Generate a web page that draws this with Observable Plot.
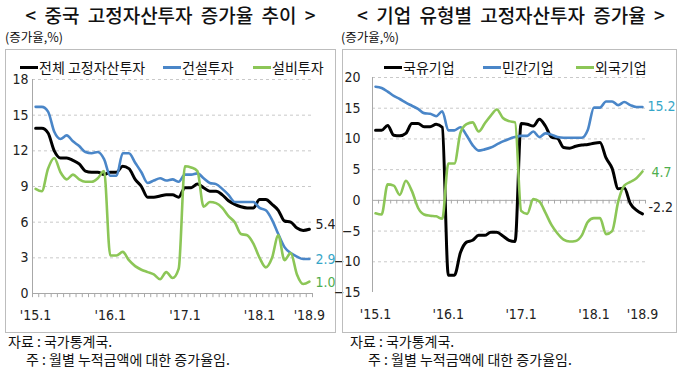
<!DOCTYPE html>
<html><head><meta charset="utf-8">
<script src="https://cdn.jsdelivr.net/npm/d3@7"></script>
<script src="https://cdn.jsdelivr.net/npm/@observablehq/plot@0.6"></script>
<style>
body{margin:0;background:#fff;}
#wrap{position:relative;width:680px;height:376px;overflow:hidden;font-family:"Noto Sans CJK KR","Noto Sans",sans-serif;color:#111;}
.title{position:absolute;top:1px;font-size:19px;font-weight:500;white-space:nowrap;text-align:center;word-spacing:4px;}
.unit{position:absolute;top:27px;font-size:12.5px;white-space:nowrap;}
.box{position:absolute;top:49px;height:284px;border:1px solid #bdbdbd;box-sizing:border-box;pointer-events:none;}
.chart{position:absolute;top:49px;}
.lg{position:absolute;top:57px;font-size:14px;white-space:nowrap;line-height:20px;}
.sw{position:absolute;top:66px;height:3px;}
.note{position:absolute;font-size:14px;white-space:nowrap;line-height:18px;}
</style></head>
<body><div id="wrap"></div>
<script>
// ---- data ----
const months = ["15.1","15.2","15.3","15.4","15.5","15.6","15.7","15.8","15.9","15.10","15.11","15.12",
  "16.1","16.2","16.3","16.4","16.5","16.6","16.7","16.8","16.9","16.10","16.11","16.12",
  "17.1","17.2","17.3","17.4","17.5","17.6","17.7","17.8","17.9","17.10","17.11","17.12",
  "18.1","18.2","18.3","18.4","18.5","18.6","18.7","18.8","18.9"];
const xTickIndex = [0, 12, 24, 36, 44];
const xTickLabels = ["'15.1", "'16.1", "'17.1", "'18.1", "'18.9"];

// left panel: 중국 고정자산투자 증가율
const leftSeriesNames = ["전체 고정자산투자", "건설투자", "설비투자"];
const total = [13.9,13.9,13.5,12.0,11.4,11.4,11.2,10.9,10.3,10.2,10.2,10.0,
  10.2,10.2,10.7,10.5,9.6,9.0,8.1,8.1,8.2,8.3,8.3,8.1,
  8.9,8.9,9.2,8.9,8.6,8.6,8.3,7.8,7.5,7.3,7.2,7.2,
  7.9,7.9,7.5,7.0,6.1,6.0,5.5,5.3,5.4];
const construction = [15.7,15.7,15.3,13.6,13.0,13.3,12.8,12.4,11.9,11.8,11.9,11.3,
  9.9,9.9,11.8,11.8,11.0,10.2,9.3,9.5,9.7,9.5,9.6,9.4,
  10.0,10.0,10.1,9.7,9.3,9.2,8.8,8.3,7.7,7.7,7.7,7.7,
  7.2,7.0,6.2,5.0,3.9,3.4,3.1,2.9,2.9];
const equipment = [8.8,8.6,10.5,11.4,10.2,9.6,10.0,9.6,9.4,9.4,9.7,10.3,
  3.2,3.2,3.5,2.8,2.3,2.0,1.8,1.6,1.2,1.8,1.3,2.1,
  10.7,10.6,10.3,7.3,7.7,7.6,7.2,6.5,6.0,5.0,4.9,4.2,
  3.0,2.2,3.0,4.9,2.8,3.4,1.6,0.8,1.0];
const leftYTicks = [0, 3, 6, 9, 12, 15, 18];

// right panel: 기업 유형별 고정자산투자 증가율
const rightSeriesNames = ["국유기업", "민간기업", "외국기업"];
const stateOwned = [11.4,11.4,12.2,10.6,10.5,10.9,12.5,12.5,12.0,12.0,12.4,11.9,
  -12.2,-12.2,-8.5,-6.8,-6.5,-5.7,-5.7,-5.2,-5.2,-5.8,-6.5,-6.7,
  12.5,12.4,12.1,13.2,12.1,10.3,10.1,8.6,8.5,8.8,9.0,9.1,
  9.3,9.4,6.9,5.2,1.9,2.0,-0.5,-1.6,-2.2];
const privateCo = [18.5,18.3,17.7,17.0,16.5,15.9,15.4,14.9,14.2,14.1,13.7,14.5,
  11.4,11.4,11.9,10.6,9.0,8.1,8.3,8.6,9.1,9.6,10.0,10.3,
  10.5,10.5,11.2,10.3,10.9,10.7,10.3,10.2,10.2,10.2,10.2,11.5,
  15.1,15.1,16.1,16.1,15.5,16.0,15.5,15.2,15.2];
const foreignCo = [-2.1,-2.3,2.6,2.4,0.9,3.2,1.5,-1.2,-2.3,-2.5,-2.6,-3.0,
  6.0,6.0,11.0,12.4,12.7,11.2,12.5,13.8,14.8,13.4,12.9,12.7,
  -1.7,-2.2,0.2,-0.2,-2.0,-4.0,-5.4,-6.4,-6.7,-6.6,-5.7,-3.5,
  -2.9,-2.9,-5.5,-5.0,-0.2,2.4,3.0,3.6,4.7];
const rightYTicks = [-15, -10, -5, 0, 5, 10, 15, 20];

const colors = {black: "#000000", blue: "#4a86c8", green: "#8cc657"};
const labelColors = {black: "#222222", blue: "#36a6c8", green: "#4fae4f"};

// ---- layout helpers ----
const wrap = document.getElementById("wrap");
function el(tag, cls, css, text) {
  const e = document.createElement(tag);
  if (cls) e.className = cls;
  Object.assign(e.style, css || {});
  if (text != null) e.textContent = text;
  wrap.appendChild(e);
  return e;
}
const numFont = '"Liberation Sans Narrow","DejaVu Sans Condensed","Liberation Sans",sans-serif';

function panel(cfg) {
  const series = cfg.series.map((s) => s.values.map((v, i) => ({i, v, name: s.name, key: s.key})));
  const bounds = d3.range(-0.5, months.length, 1);
  const chart = Plot.plot({
    width: cfg.width, height: cfg.height,
    marginLeft: cfg.ml, marginRight: cfg.mr, marginTop: cfg.mt, marginBottom: cfg.mb,
    style: {fontFamily: numFont, fontSize: "14px", color: "#222", background: "transparent", overflow: "visible"},
    x: {domain: [-0.5, months.length - 0.5], axis: null},
    y: {domain: cfg.yDomain, axis: null},
    marks: [
      Plot.ruleY(cfg.yTicks.filter(d => d !== 0 && d !== cfg.yDomain[0]), {stroke: "#c9c9c9", strokeDasharray: "3,3"}),
      Plot.ruleY([0], {stroke: "#a8a8a8"}),
      Plot.ruleX([-0.5], {stroke: "#a8a8a8"}),
      Plot.ruleX(bounds, {x: d => d, y1: 0, y2: cfg.tickLen, stroke: "#a8a8a8"}),
      Plot.axisY({ticks: cfg.yTicks, tickSize: 0, tickPadding: cfg.yPad, fontSize: 14, label: null}),
      Plot.axisX({ticks: xTickIndex, tickSize: 0, tickPadding: cfg.xPad, fontSize: 14, label: null,
        tickFormat: d => xTickLabels[xTickIndex.indexOf(d)]}),
      ...series.map((s, k) => Plot.line(s, {x: "i", y: "v", stroke: colors[cfg.series[k].key],
        strokeWidth: cfg.series[k].key === "black" ? 3 : 2.6, curve: "monotone-x"})),
      ...cfg.series.map((s) => Plot.text([s.values[s.values.length - 1]], {
        x: months.length - 1, y: d => d, text: d => d.toFixed(1), fill: labelColors[s.key],
        dx: s.dx, dy: s.dy, textAnchor: "start", fontSize: 14}))
    ]
  });
  chart.classList.add("chart");
  chart.style.left = cfg.left + "px";
  wrap.appendChild(chart);
  el("div", "box", {left: cfg.left + "px", width: cfg.width + "px"});
}

// titles
el("div", "title", {left: "5px", width: "331px"}, "< 중국 고정자산투자 증가율 추이 >");
el("div", "title", {left: "342px", width: "338px"}, "< 기업 유형별 고정자산투자 증가율 >");
el("div", "unit", {left: "5px"}, "(증가율,%)");
el("div", "unit", {left: "341px"}, "(증가율,%)");

panel({left: 5, width: 331, height: 284, ml: 27, mr: 24, mt: 30, mb: 40,
  yDomain: [0, 18], yTicks: leftYTicks, tickLen: -0.35, yPad: 4, xPad: 17,
  series: [
    {name: leftSeriesNames[0], key: "black", values: total, dx: 6, dy: -5},
    {name: leftSeriesNames[1], key: "blue", values: construction, dx: 6, dy: 0},
    {name: leftSeriesNames[2], key: "green", values: equipment, dx: 6, dy: 1}
  ]});
panel({left: 342, width: 335, height: 284, ml: 30, mr: 32, mt: 28, mb: 41,
  yDomain: [-15, 20], yTicks: rightYTicks, tickLen: -0.6, yPad: 12, xPad: 17,
  series: [
    {name: rightSeriesNames[0], key: "black", values: stateOwned, dx: 6, dy: -6},
    {name: rightSeriesNames[1], key: "blue", values: privateCo, dx: 5, dy: 0},
    {name: rightSeriesNames[2], key: "green", values: foreignCo, dx: 9, dy: 1}
  ]});

// legends
const legendPos = [
  [[20, leftSeriesNames[0], "black"], [163, leftSeriesNames[1], "blue"], [253, leftSeriesNames[2], "green"]],
  [[384, rightSeriesNames[0], "black"], [483, rightSeriesNames[1], "blue"], [576, rightSeriesNames[2], "green"]]
];
legendPos.flat().forEach(([x, name, key]) => {
  el("div", "sw", {left: x + "px", width: "18px", background: colors[key]});
  el("div", "lg", {left: (x + 19) + "px"}, name);
});

// notes
el("div", "note", {left: "8px", top: "332px"}, "자료 : 국가통계국.");
el("div", "note", {left: "26px", top: "350px"}, "주 : 월별 누적금액에 대한 증가율임.");
el("div", "note", {left: "350px", top: "332px"}, "자료 : 국가통계국.");
el("div", "note", {left: "368px", top: "350px"}, "주 : 월별 누적금액에 대한 증가율임.");
</script></body></html>
